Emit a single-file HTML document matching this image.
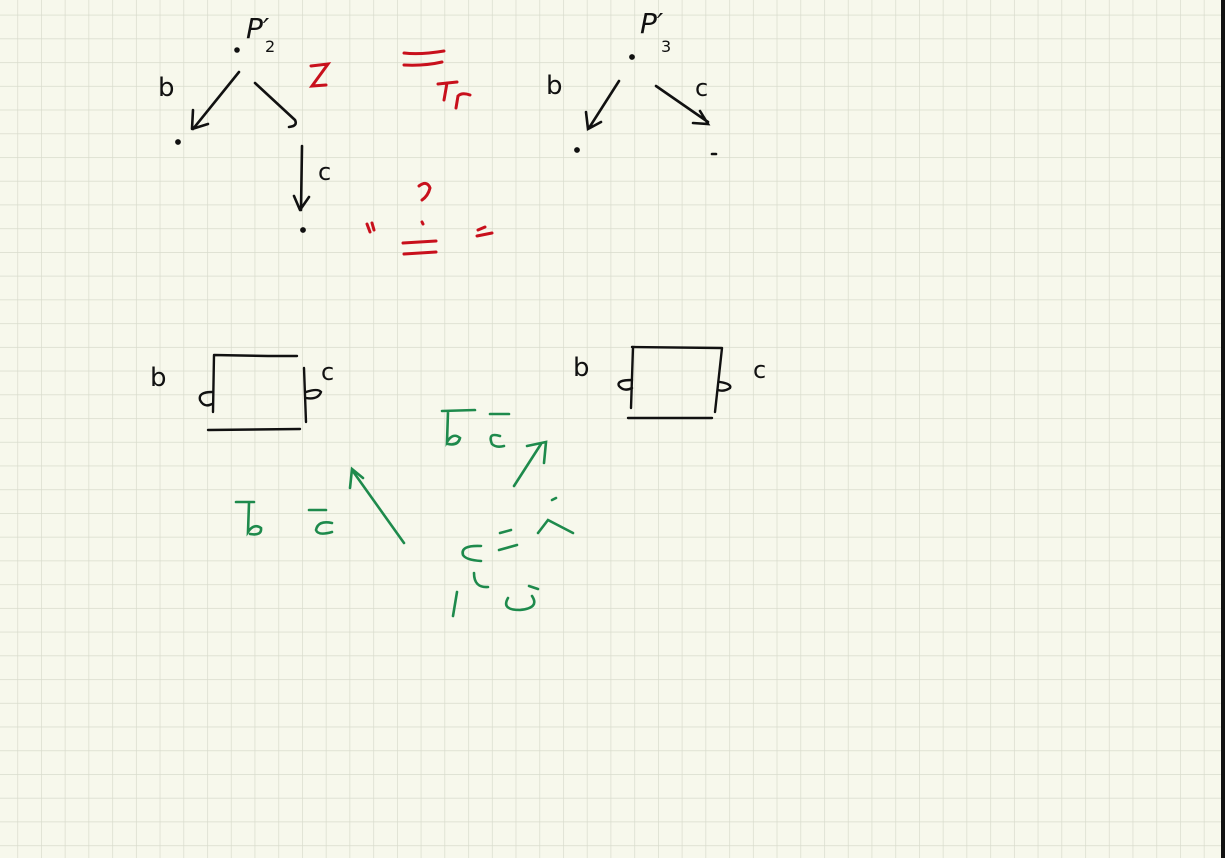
<!DOCTYPE html>
<html><head><meta charset="utf-8"><style>
html,body{margin:0;padding:0;background:#000;}
#page{position:relative;width:1225px;height:858px;overflow:hidden;background:#000;}
svg{display:block}
text{font-family:"DejaVu Sans","Liberation Sans",sans-serif;}
</style></head><body>
<div id="page">
<svg width="1225" height="858" viewBox="0 0 1225 858">
<defs>
<pattern id="grid" x="17.3" y="14.7" width="23.73" height="23.73" patternUnits="userSpaceOnUse">
<path d="M0 0H23.73M0 0V23.73" stroke="#d8dbcc" stroke-width="1.4" fill="none"/>
</pattern>
</defs>
<rect x="0" y="0" width="1221" height="858" fill="#f7f8ec"/>
<rect x="0" y="0" width="1221" height="858" fill="url(#grid)"/>
<rect x="1221" y="0" width="4" height="858" fill="#111"/>

<g stroke="#111" stroke-width="2.6" fill="none" stroke-linecap="round" stroke-linejoin="round">
<circle cx="237" cy="50" r="1.5" fill="#111"/>
<path d="M239 72 L193 129 M193 110 L192 129 L208 124"/>
<path d="M255 83 L295 120 Q298 126 289 127"/>
<circle cx="178" cy="142" r="1.6" fill="#111"/>
<path d="M302 146 L301 210 M294 196 L300 210 L309 197"/>
<circle cx="303" cy="230" r="1.6" fill="#111"/>
</g>
<text x="246" y="38" font-size="28" font-style="italic" fill="#111">P′</text>
<text x="265" y="52" font-size="16" fill="#111">2</text>
<text x="158" y="96" font-size="26" fill="#111">b</text>
<text x="318" y="180" font-size="24" fill="#111">c</text>

<g stroke="#c8101c" stroke-width="3" fill="none" stroke-linecap="round">
<path d="M404 53 Q420 55 444 51 M404 65 Q425 66 442 62"/>
<path d="M311 66 L328 64 L312 86 L326 85"/>
<path d="M438 84 L457 82 M447 83 L444 100 M456 108 L458 96 Q462 92 470 95"/>
<path d="M419 186 Q427 180 430 188 Q428 196 422 200 M422 222 L423 224"/>
<path d="M403 243 L436 241 M404 254 L436 252"/>
<path d="M367 224 L370 232 M372 223 L374 230"/>
<path d="M478 230 L485 227 M477 236 L492 233"/>
</g>

<g stroke="#111" stroke-width="2.6" fill="none" stroke-linecap="round">
<circle cx="632" cy="57" r="1.6" fill="#111"/>
<path d="M619 81 L589 128 M586 112 L588 129 L601 122"/>
<path d="M656 86 L708 122 M693 123 L708 124 L700 111"/>
<circle cx="577" cy="150" r="1.6" fill="#111"/>
<path d="M712 154 L716 154"/>
</g>
<text x="640" y="33" font-size="28" font-style="italic" fill="#111">P′</text>
<text x="661" y="52" font-size="16" fill="#111">3</text>
<text x="546" y="94" font-size="26" fill="#111">b</text>
<text x="695" y="96" font-size="24" fill="#111">c</text>

<g stroke="#111" stroke-width="2.4" fill="none" stroke-linecap="round">
<path d="M214 355 L268 356 L297 356 M214 355 L213 412 M304 368 L306 422 M208 430 L300 429"/>
<path d="M212 392 Q198 392 200 400 Q204 408 212 404"/>
<path d="M306 392 Q318 388 321 392 Q318 400 306 398"/>
</g>
<text x="150" y="386" font-size="26" fill="#111">b</text>
<text x="321" y="380" font-size="24" fill="#111">c</text>

<g stroke="#111" stroke-width="2.4" fill="none" stroke-linecap="round">
<path d="M632 347 L721 348 M633 347 L631 408 M722 348 L715 412 M628 418 L712 418"/>
<path d="M632 380 Q616 380 619 386 Q624 392 632 388"/>
<path d="M720 382 Q732 384 730 388 Q724 392 718 390"/>
</g>
<text x="573" y="376" font-size="26" fill="#111">b</text>
<text x="753" y="378" font-size="24" fill="#111">c</text>

<g stroke="#1e8a4c" stroke-width="2.6" fill="none" stroke-linecap="round">
<path d="M442 411 L475 410 M448 412 L447 442 Q453 432 460 438 Q458 446 448 444"/>
<path d="M490 414 L509 414 M500 436 Q487 432 492 444 Q496 448 504 446"/>
<path d="M514 486 L541 444 M527 446 L546 442 L544 463"/>
<path d="M404 543 L352 470 M350 488 L352 469 L363 478"/>
<path d="M236 502 L254 502 M249 503 L248 532 Q254 523 261 528 Q262 536 250 534"/>
<path d="M309 510 L326 510 M332 523 Q318 520 316 530 Q318 536 332 532"/>
<path d="M552 500 L556 498 M538 533 L548 520 L573 533"/>
<path d="M500 533 L511 530 M499 550 L517 545"/>
<path d="M481 546 Q460 545 463 555 Q466 560 481 561"/>
<path d="M474 573 Q474 588 488 587"/>
<path d="M457 592 L453 616"/>
<path d="M529 586 L538 589 M508 598 Q501 610 520 610 Q540 608 532 596"/>
</g>
</svg>
</div>
</body></html>
